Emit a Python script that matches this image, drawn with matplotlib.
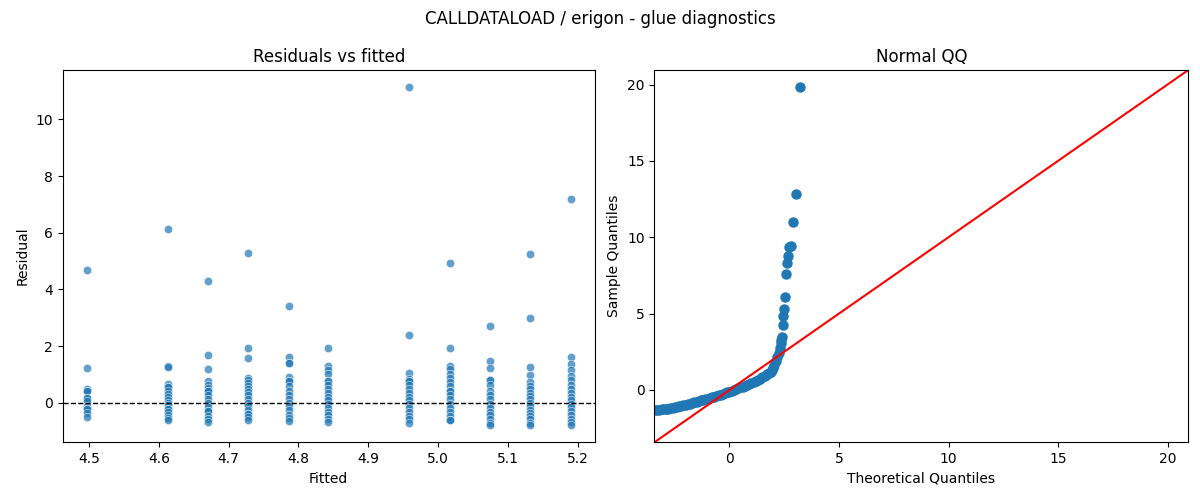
import numpy as np
import matplotlib
matplotlib.use("Agg")
import matplotlib.pyplot as plt

# fitted value of each group and the residuals
fitted_levels = [4.497, 4.613, 4.670, 4.728, 4.786, 4.843, 4.959, 5.017, 5.075, 5.132, 5.190]
residuals_by_level = [
    [4.68, 1.22, 0.49, 0.40, 0.40, 0.18, 0.18, 0.05, -0.12, -0.21, -0.21, -0.36, -0.50],
    [6.15, 1.29, 1.26, 0.67, 0.55, 0.55, 0.43, 0.32, 0.20, 0.08, 0.0, -0.09, -0.21,
     -0.21, -0.33, -0.42, -0.54, -0.62],
    [4.28, 1.69, 1.19, 0.75, 0.63, 0.52, 0.40, 0.40, 0.28, 0.14, 0.0, -0.15, -0.31,
     -0.31, -0.47, -0.59, -0.68],
    [5.28, 1.93, 1.57, 0.87, 0.79, 0.69, 0.59, 0.49, 0.38, 0.26, 0.12, 0.0, -0.12,
     -0.26, -0.39, -0.39, -0.50, -0.62],
    [3.42, 1.62, 1.39, 1.39, 0.90, 0.75, 0.75, 0.59, 0.43, 0.28, 0.14, 0.0, -0.12,
     -0.27, -0.42, -0.54, -0.66],
    [1.93, 1.29, 1.14, 1.02, 0.75, 0.75, 0.63, 0.49, 0.35, 0.20, 0.08, -0.04, -0.19,
     -0.33, -0.45, -0.56, -0.68],
    [11.15, 2.40, 1.06, 0.85, 0.75, 0.75, 0.63, 0.49, 0.35, 0.20, 0.08, -0.04, -0.19,
     -0.33, -0.47, -0.59, -0.71],
    [4.92, 1.94, 1.29, 1.18, 1.02, 0.87, 0.73, 0.59, 0.43, 0.43, 0.28, 0.14, -0.04,
     -0.19, -0.33, -0.47, -0.62, -0.62],
    [2.70, 1.46, 1.22, 0.79, 0.79, 0.63, 0.43, 0.26, 0.12, -0.04, -0.19, -0.33,
     -0.45, -0.56, -0.71, -0.80],
    [5.25, 2.98, 1.26, 0.99, 0.73, 0.59, 0.47, 0.35, 0.24, 0.12, 0.0, -0.12, -0.24,
     -0.35, -0.47, -0.59, -0.71, -0.80],
    [7.20, 1.63, 1.37, 1.14, 0.96, 0.79, 0.63, 0.49, 0.35, 0.20, 0.08, -0.04, -0.15,
     -0.31, -0.45, -0.56, -0.68, -0.78],
]

# points
qq_theoretical = [-3.4, -3.3, -3.2, -3.1, -3.0, -2.9, -2.8, -2.7, -2.6, -2.5, -2.4,
                  -2.3, -2.2, -2.1, -2.0, -1.9, -1.8, -1.7, -1.6, -1.5, -1.4, -1.3,
                  -1.2, -1.1, -1.0, -0.9, -0.8, -0.7, -0.6, -0.5, -0.4, -0.3, -0.2,
                  -0.1, 0.0, 0.1, 0.2, 0.3, 0.4, 0.5, 0.6, 0.7, 0.8, 0.9, 1.0, 1.1,
                  1.2, 1.3, 1.4, 1.5, 1.6, 1.7, 1.8, 1.88, 1.95, 2.0, 2.05, 2.12,
                  2.18, 2.24, 2.29, 2.33, 2.37, 2.40, 2.43, 2.46, 2.49, 2.53, 2.57,
                  2.61, 2.67, 2.73, 2.80, 2.90, 3.04, 3.22]
qq_sample = [-1.33, -1.31, -1.30, -1.28, -1.26, -1.24, -1.22, -1.20, -1.17, -1.14,
             -1.11, -1.08, -1.04, -1.01, -0.97, -0.93, -0.89, -0.85, -0.81, -0.77,
             -0.73, -0.69, -0.65, -0.61, -0.57, -0.53, -0.48, -0.44, -0.40, -0.36,
             -0.31, -0.26, -0.21, -0.16, -0.11, -0.05, 0.00, 0.05, 0.11, 0.16, 0.22,
             0.28, 0.34, 0.40, 0.46, 0.52, 0.58, 0.65, 0.73, 0.82, 0.92, 1.01, 1.10,
             1.20, 1.32, 1.45, 1.60, 1.90, 2.15, 2.45, 2.75, 3.05, 3.25, 3.45, 4.22,
             4.84, 5.29, 6.07, 7.62, 8.31, 8.76, 9.33, 9.40, 10.97, 12.81, 19.81]
qq_limits = [-3.43, 20.95]


def main():
    fitted = np.concatenate([[f] * len(r) for f, r in zip(fitted_levels, residuals_by_level)])
    resid = np.concatenate(residuals_by_level)

    fig = plt.figure(figsize=(12, 5), dpi=100)
    ax1 = fig.add_axes([0.0523, 0.1154, 0.4433, 0.7446])
    ax2 = fig.add_axes([0.5453, 0.1154, 0.445, 0.7446])

    # residuals vs fitted
    ax1.scatter(fitted, resid, s=36, alpha=0.7, color="C0", edgecolor="w", linewidth=0.48)
    ax1.axhline(0, color="k", linestyle="--", linewidth=1)
    ax1.set_title("Residuals vs fitted")
    ax1.set_xlabel("Fitted")
    ax1.set_ylabel("Residual")

    # normal QQ
    ax2.plot(qq_theoretical, qq_sample, "o", color="C0", markersize=6.5)
    ax2.plot(qq_limits, qq_limits, "r-", linewidth=1.5)
    ax2.set_xlim(qq_limits)
    ax2.set_ylim(qq_limits)
    ax2.set_title("Normal QQ")
    ax2.set_xlabel("Theoretical Quantiles")
    ax2.set_ylabel("Sample Quantiles")

    fig.suptitle("CALLDATALOAD / erigon - glue diagnostics")
    fig.savefig("out.png")


if __name__ == "__main__":
    main()
